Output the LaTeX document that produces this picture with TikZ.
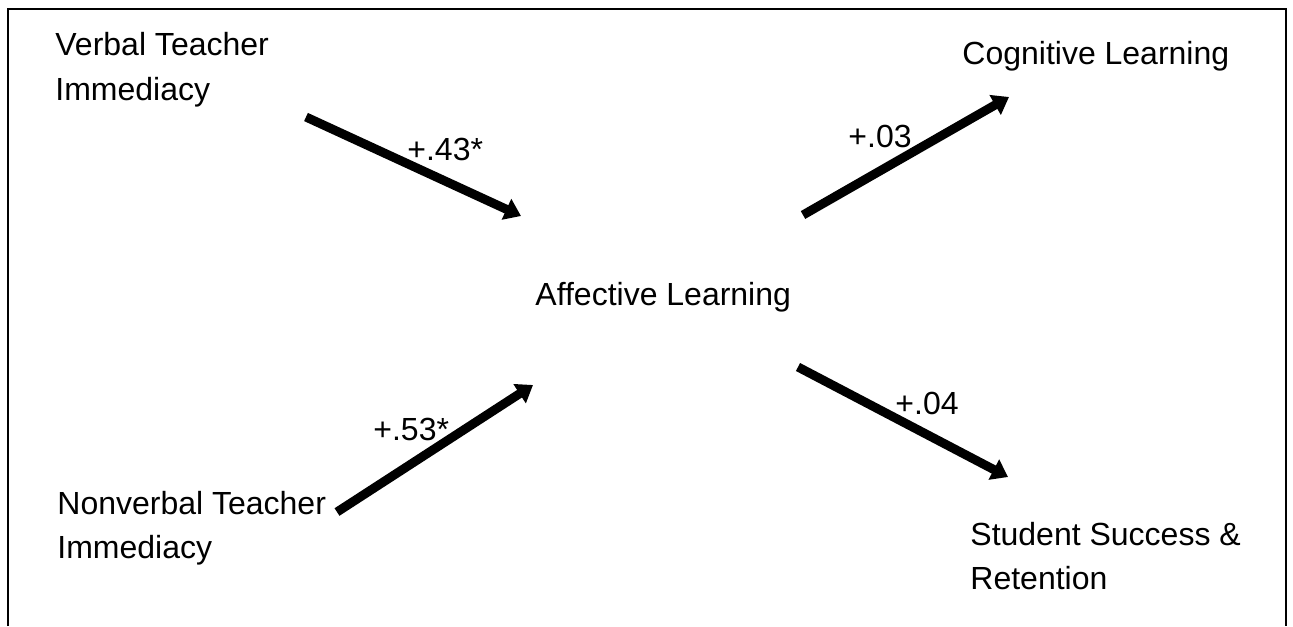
\documentclass[tikz,border=0pt]{standalone}
\usepackage{fontspec}
\setmainfont{Liberation Sans}
\usetikzlibrary{arrows.meta,positioning}

\begin{document}
\begin{tikzpicture}[x=0.5pt, y=-0.5pt,
    var/.style={anchor=base west, inner sep=0pt, align=left, font=\fontsize{16}{22}\selectfont},
    coef/.style={anchor=base west, inner sep=0pt, font=\fontsize{16}{22}\selectfont},
    effect/.style={line width=4.5pt, -{Triangle[length=8pt, width=11pt]}},
    >=Stealth
]
\useasboundingbox (0,0) rectangle (1293,626);

% open frame
\draw[line width=1pt] (8,626) -- (8,9) -- (1286,9) -- (1286,626);

% variables (base = last line)
\node[var] (Verbal)    at (55, 100)  {Verbal Teacher\\Immediacy};
\node[var] (Nonverbal) at (57, 558)  {Nonverbal Teacher\\Immediacy};
\node[var] (Affect)    at (535, 305) {Affective Learning};
\node[var] (Cogn)      at (962, 65)  {Cognitive Learning};
\node[var] (Success)   at (970, 589) {Student Success \&\\Retention};

% arrow ends
\coordinate (VerbalOut)    at (306, 117);
\coordinate (NonverbalOut) at (337, 512);
\coordinate (AffectInA)    at (521, 216);
\coordinate (AffectInB)    at (533, 385);
\coordinate (AffectOutA)   at (803, 215);
\coordinate (AffectOutB)   at (798, 367);
\coordinate (CognIn)       at (1009, 97);
\coordinate (SuccessIn)    at (1008, 477);

% paths
\draw[effect] (VerbalOut) -- (AffectInA);
\draw[effect] (NonverbalOut) -- (AffectInB);
\draw[effect] (AffectOutA) -- (CognIn);
\draw[effect] (AffectOutB) -- (SuccessIn);

% coefficients
\foreach \n/\x/\y/\lab in {A/407/160/{+.43*}, B/373/440/{+.53*}, C/848/148/{+.03}, D/895/414/{+.04}}
    \node[coef] (Coef\n) at (\x, \y) {\lab};
\end{tikzpicture}
\end{document}
